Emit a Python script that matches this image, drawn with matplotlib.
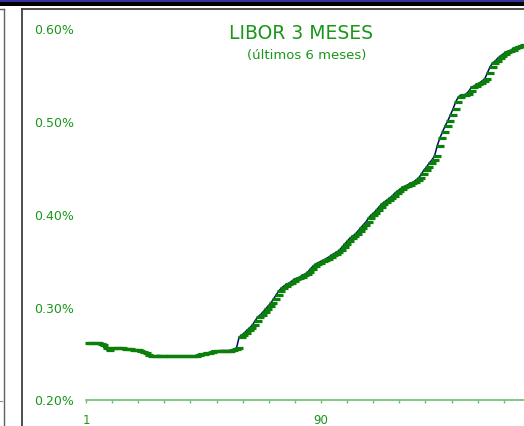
import matplotlib
matplotlib.use("Agg")
import matplotlib.pyplot as plt
import matplotlib.transforms as mtransforms
from matplotlib.lines import Line2D
from matplotlib.patches import Rectangle
from matplotlib.ticker import FixedLocator, FixedFormatter, FuncFormatter

# LIBOR 3M daily fixings (%), oldest first
libor_3m = [
    0.2609, 0.2609, 0.2609, 0.2609, 0.2604, 0.2598, 0.2588, 0.2555, 0.2534, 0.2555,
    0.2555, 0.2555, 0.2550, 0.2550, 0.2544, 0.2544, 0.2544, 0.2539, 0.2534, 0.2534,
    0.2523, 0.2512, 0.2501, 0.2480, 0.2469, 0.2469, 0.2469, 0.2474, 0.2474, 0.2469,
    0.2469, 0.2469, 0.2469, 0.2469, 0.2469, 0.2469, 0.2469, 0.2469, 0.2469, 0.2469,
    0.2469, 0.2469, 0.2480, 0.2491, 0.2491, 0.2501, 0.2501, 0.2512, 0.2523, 0.2523,
    0.2523, 0.2528, 0.2528, 0.2528, 0.2528, 0.2534, 0.2544, 0.2555, 0.2674, 0.2695,
    0.2717, 0.2749, 0.2771, 0.2803, 0.2846, 0.2889, 0.2911, 0.2943, 0.2976, 0.3008,
    0.3040, 0.3084, 0.3127, 0.3170, 0.3202, 0.3224, 0.3245, 0.3256, 0.3278, 0.3299,
    0.3310, 0.3321, 0.3342, 0.3353, 0.3375, 0.3407, 0.3439, 0.3461, 0.3477, 0.3488,
    0.3504, 0.3520, 0.3536, 0.3558, 0.3574, 0.3590, 0.3612, 0.3644, 0.3677, 0.3709,
    0.3741, 0.3763, 0.3784, 0.3817, 0.3849, 0.3881, 0.3914, 0.3957, 0.3989, 0.4011,
    0.4043, 0.4075, 0.4108, 0.4129, 0.4151, 0.4172, 0.4194, 0.4226, 0.4248, 0.4270,
    0.4291, 0.4302, 0.4318, 0.4334, 0.4345, 0.4367, 0.4388, 0.4431, 0.4474, 0.4507,
    0.4550, 0.4582, 0.4625, 0.4733, 0.4819, 0.4884, 0.4949, 0.5003, 0.5067, 0.5132,
    0.5208, 0.5261, 0.5283, 0.5283, 0.5294, 0.5326, 0.5369, 0.5380, 0.5402, 0.5412,
    0.5434, 0.5456, 0.5520, 0.5585, 0.5628, 0.5650, 0.5682, 0.5704, 0.5725, 0.5747,
    0.5757, 0.5768, 0.5790, 0.5801, 0.5811, 0.5817,
]
day_index = list(range(1, len(libor_3m) + 1))

y_ticks = [0.20, 0.30, 0.40, 0.50, 0.60]
x_label_days = [1, 90]
x_label_text = ["1", "90"]

title_text = "LIBOR 3 MESES"
subtitle_text = "(últimos 6 meses)"

GREEN_TEXT = "#1a961a"
GREEN_MARK = "#0a800a"
AXIS_GREEN = "#6cbf6c"
NAVY = "#000080"
FRAME = "#404040"

W, H = 524, 427
fig = plt.figure(figsize=(W / 100, H / 100), dpi=100)
fig.patch.set_facecolor("white")

# plot area in pixel terms
left_px, right_px, top_px, bottom_px = 86, 524, 29.5, 400.5
ax = fig.add_axes([left_px / W, (H - bottom_px) / H,
                   (right_px - left_px) / W, (bottom_px - top_px) / H])

px_per_day = 235 / 89.0
ax.set_xlim(1, 1 + (right_px - left_px) / px_per_day)
ax.set_ylim(0.20, 0.60)

ax.plot(day_index, libor_3m, color=NAVY, lw=1.1, zorder=2)
shift = mtransforms.offset_copy(ax.transData, fig=fig, x=px_per_day, y=0, units="dots")
ax.plot(day_index, libor_3m, ls="none", marker="_", ms=5.2, mew=2.3,
        color=GREEN_MARK, transform=shift, zorder=3, clip_on=False)

for s in ("top", "right", "left"):
    ax.spines[s].set_visible(False)
ax.spines["bottom"].set_color(AXIS_GREEN)
ax.spines["bottom"].set_linewidth(1.2)

# y axis: labels only
ax.set_yticks(y_ticks)
ax.yaxis.set_major_formatter(FuncFormatter(lambda v, p: f"{v:.2f}%"))
ax.tick_params(axis="y", length=0, pad=8.6, labelsize=9, labelcolor=GREEN_TEXT)

# x axis: tick marks every ninth of the label interval, labels at 1 and 90
step = (x_label_days[1] - x_label_days[0]) / 9.0
tick_pos = []
t = x_label_days[0]
while t <= 1 + (right_px - left_px) / px_per_day:
    tick_pos.append(t)
    t += step
tick_lbl = []
for p in tick_pos:
    lbl = ""
    for d, txt in zip(x_label_days, x_label_text):
        if abs(p - d) < 1e-6:
            lbl = txt
    tick_lbl.append(lbl)
ax.xaxis.set_major_locator(FixedLocator(tick_pos))
ax.xaxis.set_major_formatter(FixedFormatter(tick_lbl))
ax.tick_params(axis="x", direction="out", length=2.4, width=1, color=AXIS_GREEN,
               pad=7, labelsize=8.5, labelcolor=GREEN_TEXT)

# titles
fig.text(300.8 / W, (H - 39) / H, title_text, ha="center", va="baseline",
         fontsize=13.5, color=GREEN_TEXT)
fig.text(306.5 / W, (H - 59) / H, subtitle_text, ha="center", va="baseline",
         fontsize=9.5, color=GREEN_TEXT)

# page decoration: header bars and panel frames
fig.add_artist(Rectangle((0, (H - 3.3) / H), 1, 3.3 / H, transform=fig.transFigure,
                         color="#333399", lw=0))
fig.add_artist(Rectangle((0, (H - 7.3) / H), 1, 4.0 / H, transform=fig.transFigure,
                         color="black", lw=0))
fig.add_artist(Line2D([22 / W, 22 / W], [0, (H - 10) / H], transform=fig.transFigure,
                      color=FRAME, lw=1.3))
fig.add_artist(Line2D([22 / W, 1], [(H - 10) / H, (H - 10) / H], transform=fig.transFigure,
                      color=FRAME, lw=1.3))
fig.add_artist(Line2D([3.5 / W, 3.5 / W], [0, (H - 10) / H], transform=fig.transFigure,
                      color="#606060", lw=1.0))
fig.add_artist(Line2D([0, 3.5 / W], [(H - 10) / H, (H - 10) / H], transform=fig.transFigure,
                      color="#606060", lw=1.0))
fig.add_artist(Line2D([0, 1.5 / W], [(H - 402) / H, (H - 402) / H], transform=fig.transFigure,
                      color="#909090", lw=0.8))

fig.savefig("out.png", dpi=100)
